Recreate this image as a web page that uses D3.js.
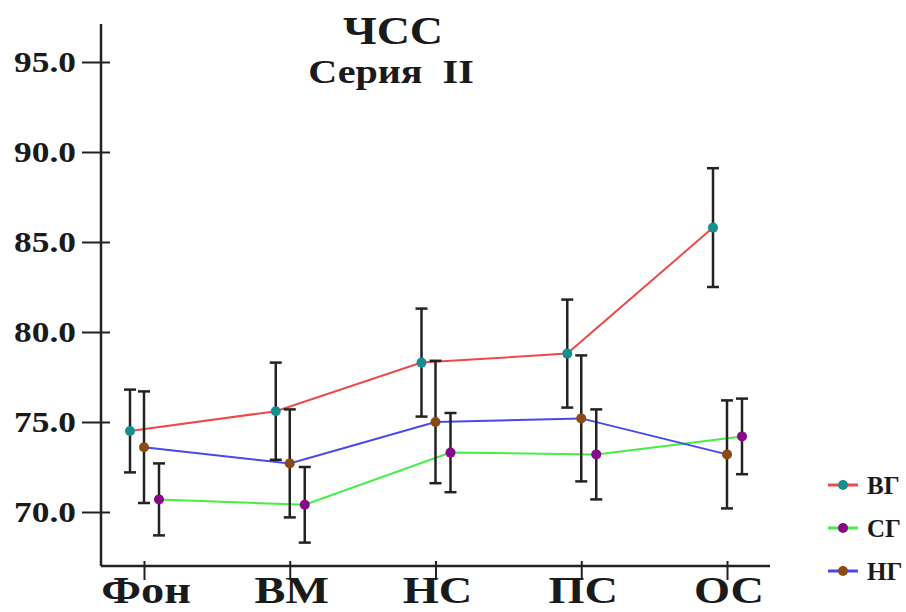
<!DOCTYPE html>
<html>
<head>
<meta charset="utf-8">
<script src="https://cdn.jsdelivr.net/npm/d3@7"></script>
<style>
  body { margin: 0; background: #fff; }
  text { font-family: "Liberation Serif", "Times New Roman", serif; font-weight: bold; fill: #1a1a1a; }
</style>
</head>
<body>
<div id="chart"></div>
<script>
// Data
const categories = ["Фон", "ВМ", "НС", "ПС", "ОС"];
const yTicks = [70, 75, 80, 85, 90, 95];

const vgMean = [74.5, 75.6, 78.3, 78.8, 85.8];
const vgErr = [2.3, 2.7, 3.0, 3.0, 3.3];
const sgMean = [70.7, 70.4, 73.3, 73.2, 74.2];
const sgErr = [2.0, 2.1, 2.2, 2.5, 2.1];
const ngMean = [73.6, 72.7, 75.0, 75.2, 73.2];
const ngErr = [3.1, 3.0, 3.4, 3.5, 3.0];

const series = [
    { name: "ВГ", mean: vgMean, err: vgErr, line: "#f04848", dot: "#168f8f", shift: -14 },
    { name: "СГ", mean: sgMean, err: sgErr, line: "#44ee44", dot: "#850a85", shift: 15 },
    { name: "НГ", mean: ngMean, err: ngErr, line: "#4848f0", dot: "#8a4a12", shift: 0 }
];

const width = 906, height = 612;
const stretch = 1.22; // text in the picture is a bit wide

const svg = d3.select("#chart").append("svg")
    .attr("width", width)
    .attr("height", height);

// Scales
const x = d3.scalePoint().domain(categories).range([144, 727]);
const y = d3.scaleLinear().domain([70, 95]).range([512, 62]);

// Axes lines
svg.append("line")
    .attr("x1", 101).attr("x2", 101)
    .attr("y1", 24).attr("y2", 566)
    .attr("stroke", "#222").attr("stroke-width", 2.5);
svg.append("line")
    .attr("x1", 101).attr("x2", 770)
    .attr("y1", 566).attr("y2", 566)
    .attr("stroke", "#222").attr("stroke-width", 2.5);

// Y ticks cross the axis
const yAxis = svg.append("g")
    .attr("transform", "translate(101,0)")
    .call(d3.axisLeft(y).tickValues(yTicks).tickSize(0).tickFormat(""));
yAxis.select(".domain").remove();
yAxis.selectAll(".tick line")
    .attr("x1", -19).attr("x2", 9)
    .attr("stroke", "#222").attr("stroke-width", 2);

svg.selectAll(".ylab")
    .data(yTicks)
    .enter().append("text")
    .attr("class", "ylab")
    .attr("text-anchor", "end")
    .attr("font-size", 29)
    .attr("transform", d => `translate(76,${y(d) + 10}) scale(${stretch},1)`)
    .text(d => d.toFixed(1));

// X ticks and labels
const xAxis = svg.append("g")
    .attr("transform", "translate(0,566)")
    .call(d3.axisBottom(x).tickSize(0).tickFormat(""));
xAxis.select(".domain").remove();
xAxis.selectAll(".tick line")
    .attr("y1", -5).attr("y2", 14)
    .attr("stroke", "#222").attr("stroke-width", 2);

svg.selectAll(".xlab")
    .data(categories)
    .enter().append("text")
    .attr("class", "xlab")
    .attr("text-anchor", "middle")
    .attr("font-size", 38)
    .attr("transform", d => `translate(${x(d) + 2},603) scale(${stretch},1)`)
    .text(d => d);

// Title
svg.append("text")
    .attr("text-anchor", "middle")
    .attr("font-size", 40)
    .attr("transform", `translate(393,44) scale(1.15,1)`)
    .text("ЧСС");
svg.append("text")
    .attr("text-anchor", "middle")
    .attr("font-size", 34)
    .attr("transform", `translate(391,83) scale(1.18,1)`)
    .attr("xml:space", "preserve")
    .style("white-space", "pre")
    .text("Серия  II");

// Lines
const line = d3.line();
series.forEach(s => {
    const pts = categories.map((c, i) => [x(c) + s.shift, y(s.mean[i])]);
    svg.append("path")
        .attr("d", line(pts))
        .attr("fill", "none")
        .attr("stroke", s.line)
        .attr("stroke-width", 2);
});

// Error bars
series.forEach(s => {
    const g = svg.append("g").attr("stroke", "#222").attr("stroke-width", 2.5);
    categories.forEach((c, i) => {
        const cx = x(c) + s.shift;
        const top = y(s.mean[i] + s.err[i]);
        const bot = y(s.mean[i] - s.err[i]);
        g.append("line").attr("x1", cx).attr("x2", cx).attr("y1", top).attr("y2", bot);
        g.append("line").attr("x1", cx - 6).attr("x2", cx + 6).attr("y1", top).attr("y2", top);
        g.append("line").attr("x1", cx - 6).attr("x2", cx + 6).attr("y1", bot).attr("y2", bot);
    });
});

// Markers
series.forEach(s => {
    svg.selectAll(null)
        .data(categories)
        .enter().append("circle")
        .attr("cx", (c) => x(c) + s.shift)
        .attr("cy", (c, i) => y(s.mean[i]))
        .attr("r", 5)
        .attr("fill", s.dot);
});

// Legend
const legend = svg.selectAll(".legend")
    .data(series)
    .enter().append("g")
    .attr("class", "legend")
    .attr("transform", (d, i) => `translate(828,${485 + i * 43})`);
legend.append("line")
    .attr("x1", 0).attr("x2", 30)
    .attr("stroke", d => d.line).attr("stroke-width", 3);
legend.append("circle")
    .attr("cx", 15).attr("r", 5)
    .attr("fill", d => d.dot);
legend.append("text")
    .attr("x", 39).attr("y", 9)
    .attr("font-size", 25)
    .text(d => d.name);
</script>
</body>
</html>
